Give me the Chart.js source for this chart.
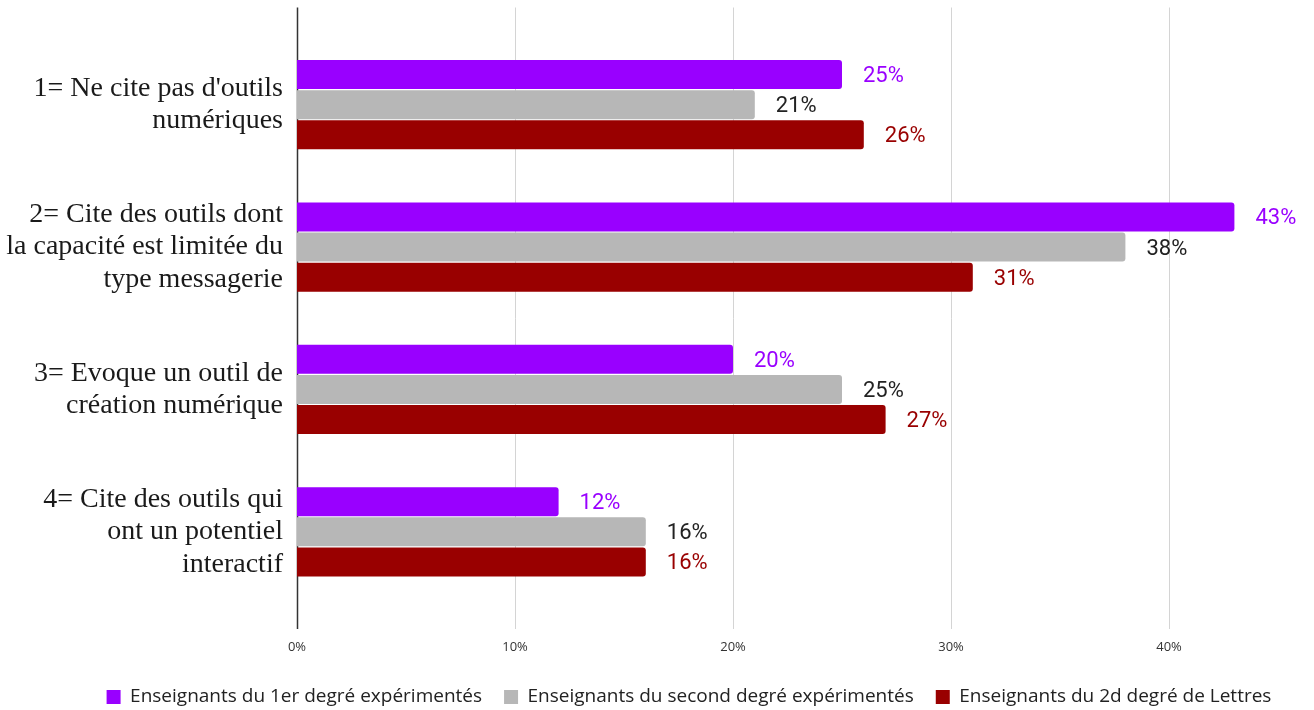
<!DOCTYPE html>
<html lang="fr">
<head>
<meta charset="UTF-8" />
<title>Outils numériques cités</title>
<script src="https://cdn.jsdelivr.net/npm/chart.js"></script>
<style>
   html, body { margin: 0; padding: 0; background: #fff; }
   #zone { width: 1314px; height: 710px; }
</style>
</head>
<body>
<div id="zone"><canvas id="graphique"></canvas></div>
<script>
   // categories (axe vertical)
   const categories = [
      ["1= Ne cite pas d'outils", "numériques"],
      ["2= Cite des outils dont", "la capacité est limitée du", "type messagerie"],
      ["3= Evoque un outil de", "création numérique"],
      ["4= Cite des outils qui", "ont un potentiel", "interactif"]
   ];

   // series
   const noms_series = [
      "Enseignants du 1er degré expérimentés",
      "Enseignants du second degré expérimentés",
      "Enseignants du 2d degré de Lettres"
   ];
   const premier_degre = [25, 43, 20, 12];
   const second_degre = [21, 38, 25, 16];
   const lettres = [26, 31, 27, 16];

   // ticks axe horizontal
   const ticks_x = [0, 10, 20, 30, 40];

   const couleurs = ["#9900ff", "#b7b7b7", "#990000"];
   const couleurs_etiquettes = ["#9900ff", "#222222", "#990000"];

   const police_etroite = "'Liberation Sans Narrow', 'Arial Narrow', 'Open Sans', sans-serif";

   // grille + ligne d'axe qui depassent un peu la zone du graphique
   const plugin_grille = {
      id: "grille",
      afterLayout(chart) {
         // decale la legende vers la droite comme dans l'original
         chart.legend.left += 50;
         chart.legend.right += 50;
      },
      beforeDatasetsDraw(chart) {
         const ctx = chart.ctx;
         const zone = chart.chartArea;
         const x = chart.scales.x;
         ctx.save();
         ticks_x.forEach(function (v) {
            const px = Math.round(x.getPixelForValue(v)) + 0.5;
            ctx.beginPath();
            ctx.strokeStyle = v === 0 ? "#333333" : "#d4d4d4";
            ctx.lineWidth = v === 0 ? 1.5 : 1;
            ctx.moveTo(px, zone.top - 26);
            ctx.lineTo(px, zone.bottom + 26);
            ctx.stroke();
         });
         ctx.restore();
      }
   };

   // etiquettes de valeur au bout des barres
   const plugin_etiquettes = {
      id: "etiquettes",
      afterDatasetsDraw(chart) {
         const ctx = chart.ctx;
         ctx.save();
         ctx.font = "22px Roboto";
         ctx.textBaseline = "middle";
         ctx.textAlign = "left";
         chart.data.datasets.forEach(function (ds, i) {
            const meta = chart.getDatasetMeta(i);
            meta.data.forEach(function (barre, j) {
               ctx.fillStyle = couleurs_etiquettes[i];
               ctx.fillText(ds.data[j] + "%", barre.x + 21, barre.y + 2);
            });
         });
         ctx.restore();
      }
   };

   const donnees = {
      labels: categories,
      datasets: [premier_degre, second_degre, lettres].map(function (serie, i) {
         return {
            label: noms_series[i],
            data: serie,
            backgroundColor: couleurs[i],
            borderRadius: 3,
            borderSkipped: "start",
            barPercentage: 0.96,
            categoryPercentage: 0.635
         };
      })
   };

   const config = {
      type: "bar",
      data: donnees,
      plugins: [plugin_grille, plugin_etiquettes],
      options: {
         indexAxis: "y",
         responsive: true,
         maintainAspectRatio: false,
         animation: false,
         layout: {
            padding: { top: 33.5, right: 36, bottom: -6.5, left: 0 }
         },
         scales: {
            x: {
               min: 0,
               max: 45,
               grid: { display: false },
               border: { display: false },
               afterBuildTicks: function (axe) {
                  axe.ticks = ticks_x.map(function (v) { return { value: v }; });
               },
               afterFit: function (axe) {
                  axe.height = 62.5;
                  axe.paddingLeft = 0;
                  axe.paddingRight = 0;
               },
               ticks: {
                  padding: 28,
                  color: "#333333",
                  font: { family: police_etroite, size: 13 },
                  callback: function (v) { return v + "%"; }
               }
            },
            y: {
               grid: { display: false },
               border: { display: false },
               afterFit: function (axe) {
                  axe.width = 297;
                  axe.paddingTop = 0;
                  axe.paddingBottom = 0;
               },
               ticks: {
                  padding: 6,
                  color: "#1a1a1a",
                  font: { family: "'Liberation Serif', 'Times New Roman', serif", size: 28, lineHeight: 1.16 }
               }
            }
         },
         plugins: {
            legend: {
               position: "bottom",
               labels: {
                  boxWidth: 14,
                  boxHeight: 14,
                  padding: 22,
                  color: "#222222",
                  font: { family: police_etroite, size: 19 }
               }
            },
            tooltip: { enabled: false }
         }
      }
   };

   const graphique = new Chart(document.getElementById("graphique"), config);
</script>
</body>
</html>
